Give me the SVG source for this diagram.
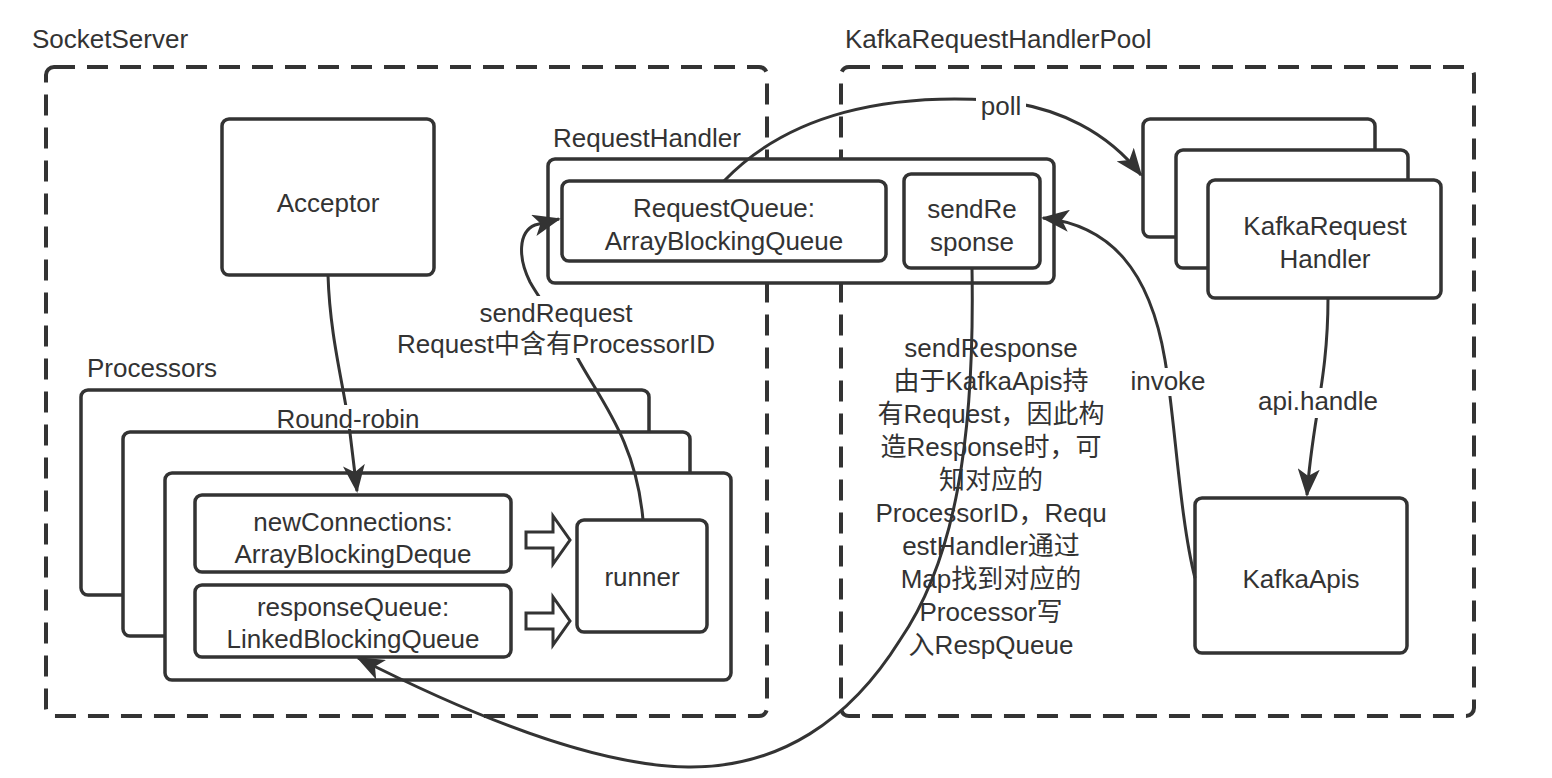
<svg xmlns="http://www.w3.org/2000/svg" width="1552" height="778" viewBox="0 0 1552 778">
<defs>
<style>
text{font-family:"Liberation Sans","Noto Sans CJK SC",sans-serif;font-size:26px;fill:#333;}
.c{text-anchor:middle;}
.dash{fill:none;stroke:#333;stroke-width:4;stroke-dasharray:21 12;}
.box{fill:#fff;stroke:#333;stroke-width:3.5;}
.edge{fill:none;stroke:#333;stroke-width:3;}
.bg{fill:#fff;}
.hollow{fill:#fff;stroke:#333;stroke-width:3;stroke-linejoin:miter;}
</style>
<marker id="arr" markerUnits="userSpaceOnUse" viewBox="0 0 28 22" markerWidth="28" markerHeight="22" refX="26" refY="11" orient="auto">
<path d="M0,0 L28,11 L0,22 L7,11 Z" fill="#333"/>
</marker>
</defs>
<rect width="1552" height="778" fill="#fff"/>

<g id="socketServer">
<text x="32" y="48">SocketServer</text>
<rect class="dash" x="46" y="67" width="721" height="649" rx="8"/>
</g>
<g id="kafkaRequestHandlerPool">
<text x="845" y="48">KafkaRequestHandlerPool</text>
<rect class="dash" x="841" y="67" width="633" height="649" rx="8"/>
</g>

<g id="acceptor">
<rect class="box" x="222" y="119" width="212" height="156" rx="7"/>
<text class="c" x="328" y="212">Acceptor</text>
</g>

<g id="requestHandler">
<text x="553" y="147">RequestHandler</text>
<rect class="box" x="548" y="159" width="506" height="124" rx="7"/>
</g>
<g id="requestQueue">
<rect class="box" x="562" y="181" width="324" height="80" rx="7"/>
<text class="c" x="724" y="217">RequestQueue:</text>
<text class="c" x="724" y="250">ArrayBlockingQueue</text>
</g>
<g id="sendResponseBox">
<rect class="box" x="904" y="174" width="136" height="94" rx="7"/>
<text class="c" x="972" y="218">sendRe</text>
<text class="c" x="972" y="251">sponse</text>
</g>

<g id="kafkaRequestHandlers">
<rect class="box" x="1143" y="119" width="232" height="118" rx="7"/>
<rect class="box" x="1176" y="150" width="232" height="118" rx="7"/>
<rect class="box" x="1208" y="180" width="233" height="118" rx="7"/>
<text class="c" x="1325" y="235">KafkaRequest</text>
<text class="c" x="1325" y="268">Handler</text>
</g>

<g id="kafkaApis">
<rect class="box" x="1195" y="498" width="212" height="155" rx="7"/>
<text class="c" x="1301" y="588">KafkaApis</text>
</g>

<g id="processors">
<text x="87" y="377">Processors</text>
<rect class="box" x="81" y="390" width="568" height="205" rx="7"/>
<rect class="box" x="123" y="432" width="567" height="204" rx="7"/>
<rect class="box" x="165" y="473" width="566" height="207" rx="7"/>
</g>
<g id="newConnections">
<rect class="box" x="195" y="495" width="316" height="77" rx="7"/>
<text class="c" x="353" y="531">newConnections:</text>
<text class="c" x="353" y="563">ArrayBlockingDeque</text>
</g>
<g id="responseQueue">
<rect class="box" x="195" y="585" width="316" height="72" rx="7"/>
<text class="c" x="353" y="616">responseQueue:</text>
<text class="c" x="353" y="648">LinkedBlockingQueue</text>
</g>
<g id="runner">
<rect class="box" x="577" y="520" width="130" height="112" rx="7"/>
<text class="c" x="642" y="586">runner</text>
</g>
<g id="hollowArrows">
<path class="hollow" d="M526,532 L553,532 L553,516 L570,540 L553,564 L553,548 L526,548 Z"/>
<path class="hollow" d="M526,613 L553,613 L553,597 L570,621 L553,645 L553,629 L526,629 Z"/>
</g>

<g id="connectors">
<path class="edge" marker-end="url(#arr)" d="M328,275 C330,340 345,390 350,433 L357,491"/>
<rect class="bg" x="266" y="405" width="164" height="24"/>
<text class="c" x="348" y="428">Round-robin</text>

<path class="edge" marker-end="url(#arr)" d="M643,520 C636,440 600,400 577,357 C555,318 540,300 530,282 C518,258 518,232 535,225 L559,219"/>
<rect class="bg" x="388" y="296" width="336" height="62"/>
<text class="c" x="556" y="322">sendRequest</text>
<text class="c" x="556" y="353">Request中含有ProcessorID</text>

<path class="edge" marker-end="url(#arr)" d="M724,181 C790,112 890,94 990,100 C1060,105 1110,135 1141,175"/>
<rect class="bg" x="976" y="90" width="50" height="30"/>
<text class="c" x="1001" y="115">poll</text>

<path class="edge" marker-end="url(#arr)" d="M972,268 C975,440 955,560 900,640 C850,720 780,768 688,767 C600,766 480,720 358,658"/>
<text class="c" x="991" y="357">sendResponse</text>
<text class="c" x="991" y="390">由于KafkaApis持</text>
<text class="c" x="991" y="423">有Request，因此构</text>
<text class="c" x="991" y="456">造Response时，可</text>
<text class="c" x="991" y="489">知对应的</text>
<text class="c" x="991" y="522">ProcessorID，Requ</text>
<text class="c" x="991" y="555">estHandler通过</text>
<text class="c" x="991" y="588">Map找到对应的</text>
<text class="c" x="991" y="621">Processor写</text>
<text class="c" x="991" y="654">入RespQueue</text>

<path class="edge" marker-end="url(#arr)" d="M1195,578 C1180,520 1175,420 1165,360 C1150,270 1110,225 1043,218"/>
<rect class="bg" x="1128" y="368" width="80" height="28"/>
<text class="c" x="1168" y="390">invoke</text>

<path class="edge" marker-end="url(#arr)" d="M1328,298 C1328,380 1312,420 1307,495"/>
<rect class="bg" x="1252" y="388" width="132" height="30"/>
<text class="c" x="1318" y="410">api.handle</text>
</g>
</svg>
